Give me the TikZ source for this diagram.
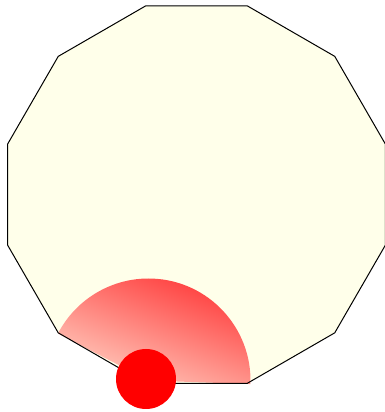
\documentclass[tikz,border=0pt]{standalone}
\definecolor{polyfill}{RGB}{255,255,234}
\definecolor{lightpink}{RGB}{255,206,192}
\definecolor{softred}{RGB}{255,58,58}
\tikzset{
  polystyle/.style={draw=black, line width=1pt, line join=miter},
  sectorshade/.style={top color=softred, bottom color=lightpink, shading angle=-22},
  dotstyle/.style={fill=red}
}
\begin{document}
\begin{tikzpicture}[x=1pt,y=1pt]
\useasboundingbox (0,0) rectangle (385,412);
\begin{scope}[shift={(196.5,217.4)}]
  \fill[polyfill] (15:195.5) \foreach \a in {45,75,...,345} { -- (\a:195.5)} -- cycle;
\end{scope}
\shade[sectorshade] (148.5,31.5) -- ++(-2:102) arc[start angle=-2, end angle=152.6, radius=102] -- cycle;
\begin{scope}[shift={(196.5,217.4)}]
  \draw[polystyle] (15:195.5) \foreach \a in {45,75,...,345} { -- (\a:195.5)} -- cycle;
\end{scope}
\fill[dotstyle] (146,33) circle[radius=30];
\end{tikzpicture}
\end{document}
